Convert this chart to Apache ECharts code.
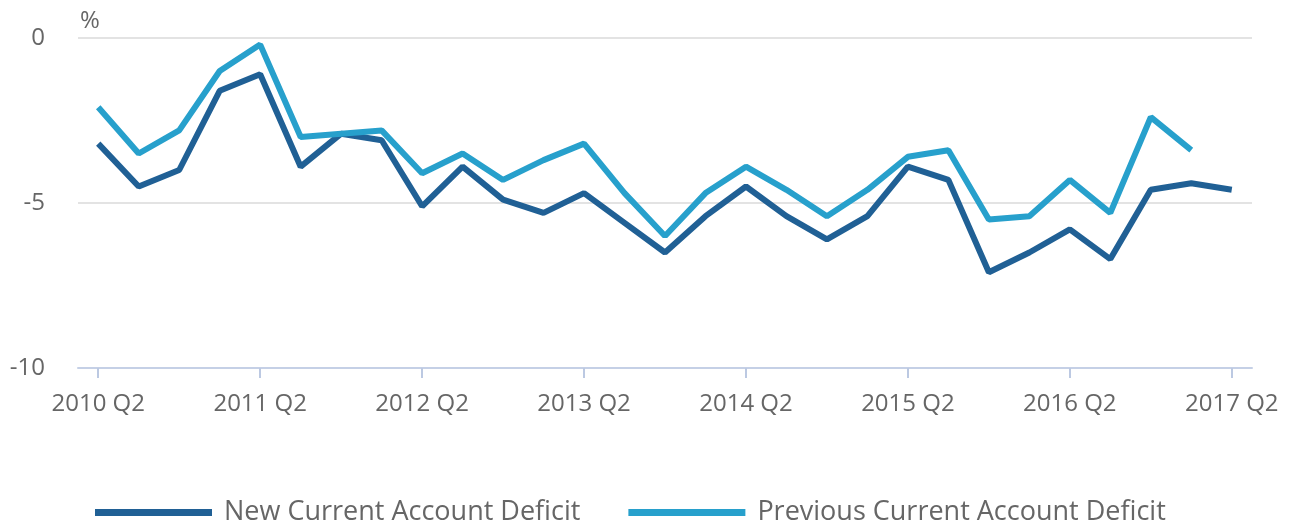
<!DOCTYPE html>
<html>
<head>
<meta charset="utf-8">
<script src="https://cdn.jsdelivr.net/npm/echarts@6/dist/echarts.min.js"></script>
<style>
  html, body { margin: 0; padding: 0; background: #fff; }
  #chart { width: 1291px; height: 522px; }
</style>
</head>
<body>
<div id="chart"></div>
<script>
var quarters = [
  "2010 Q2", "2010 Q3", "2010 Q4", "2011 Q1",
  "2011 Q2", "2011 Q3", "2011 Q4", "2012 Q1",
  "2012 Q2", "2012 Q3", "2012 Q4", "2013 Q1",
  "2013 Q2", "2013 Q3", "2013 Q4", "2014 Q1",
  "2014 Q2", "2014 Q3", "2014 Q4", "2015 Q1",
  "2015 Q2", "2015 Q3", "2015 Q4", "2016 Q1",
  "2016 Q2", "2016 Q3", "2016 Q4", "2017 Q1",
  "2017 Q2"
];
var newDeficit = [
  -3.2, -4.5, -4.0, -1.6, -1.1, -3.9, -2.9, -3.1,
  -5.1, -3.9, -4.9, -5.3, -4.7, -5.6, -6.5, -5.4,
  -4.5, -5.4, -6.1, -5.4, -3.9, -4.3, -7.1, -6.5,
  -5.8, -6.7, -4.6, -4.4, -4.6
];
var previousDeficit = [
  -2.1, -3.5, -2.8, -1.0, -0.2, -3.0, -2.9, -2.8,
  -4.1, -3.5, -4.3, -3.7, -3.2, -4.7, -6.0, -4.7,
  -3.9, -4.6, -5.4, -4.6, -3.6, -3.4, -5.5, -5.4,
  -4.3, -5.3, -2.4, -3.4
];
var yTicks = [-10, -5, 0];

var chart = echarts.init(document.getElementById("chart"));
var font = "'Open Sans', sans-serif";
var option = {
  animation: false,
  title: {
    text: "%",
    left: 75,
    top: 4,
    textStyle: { color: "#666", fontSize: 24, fontWeight: "normal", fontFamily: font },
  },
  grid: { left: 78, right: 39, top: 38, bottom: 154 },
  legend: {
    left: 90,
    top: 494,
    icon: "rect",
    itemWidth: 117,
    itemHeight: 7,
    itemGap: 48,
    textStyle: { color: "#666", fontSize: 27, fontFamily: font, padding: [0, 0, 0, 7] },
    data: ["New Current Account Deficit", "Previous Current Account Deficit"],
  },
  xAxis: {
    type: "category",
    data: quarters,
    boundaryGap: true,
    axisLine: { onZero: false, lineStyle: { color: "#c5d0e6", width: 2 } },
    axisTick: {
      show: true,
      alignWithLabel: true,
      interval: 3,
      length: 10,
      lineStyle: { color: "#bcc9e2", width: 2 },
    },
    axisLabel: { interval: 3, color: "#666", fontSize: 24, fontFamily: font, margin: 24 },
  },
  yAxis: {
    type: "value",
    min: yTicks[0],
    max: yTicks[yTicks.length - 1],
    interval: 5,
    axisLine: { show: false },
    axisTick: { show: false },
    splitLine: { lineStyle: { color: "#e3e3e3", width: 2 } },
    axisLabel: { color: "#666", fontSize: 24, fontFamily: font, margin: 33, padding: [4, 0, 0, 0] },
  },
  series: [
    {
      name: "New Current Account Deficit",
      type: "line",
      data: newDeficit,
      symbol: "none",
      color: "#206095",
      lineStyle: { width: 6 },
      z: 2,
    },
    {
      name: "Previous Current Account Deficit",
      type: "line",
      data: previousDeficit,
      symbol: "none",
      color: "#27a0cc",
      lineStyle: { width: 6 },
      z: 3,
    },
  ],
};
chart.setOption(option);
</script>
</body>
</html>
